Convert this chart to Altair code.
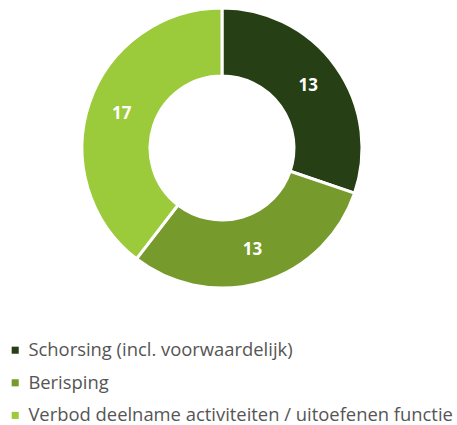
import altair as alt
import pandas as pd

categories = ["Schorsing (incl. voorwaardelijk)", "Berisping", "Verbod deelname activiteiten / uitoefenen functie"]
values = [13, 13, 17]
colors = ["#263f14", "#769a2b", "#9bcb3a"]

df = pd.DataFrame({"cat": categories, "value": values, "order": list(range(len(values)))})

base = alt.Chart(df).encode(
    theta=alt.Theta("value:Q", stack=True),
    order=alt.Order("order:Q"),
)

arcs = base.mark_arc(innerRadius=72, outerRadius=140, stroke="white", strokeWidth=3).encode(
    x=alt.value(222), y=alt.value(148),
    color=alt.Color("cat:N", scale=alt.Scale(domain=categories, range=colors),
                    legend=alt.Legend(title=None, orient="none", legendX=6, legendY=341,
                                      symbolType="square", symbolSize=50, symbolStrokeWidth=0,
                                      labelFont="Open Sans", labelFontSize=18.4, labelColor="#555555",
                                      labelLimit=600, rowPadding=13.6, labelOffset=4)),
)

labels = base.mark_text(radius=106, font="Open Sans", fontSize=17, fontWeight="bold", color="white").encode(
    x=alt.value(222), y=alt.value(148),
    text="value:Q",
)

chart = alt.layer(arcs, labels).properties(
    width=457, height=425, autosize=alt.AutoSizeParams(type="none"), padding=0
).configure_view(stroke=None)

chart.save("out.html", embed_options={"renderer": "svg", "actions": False})
